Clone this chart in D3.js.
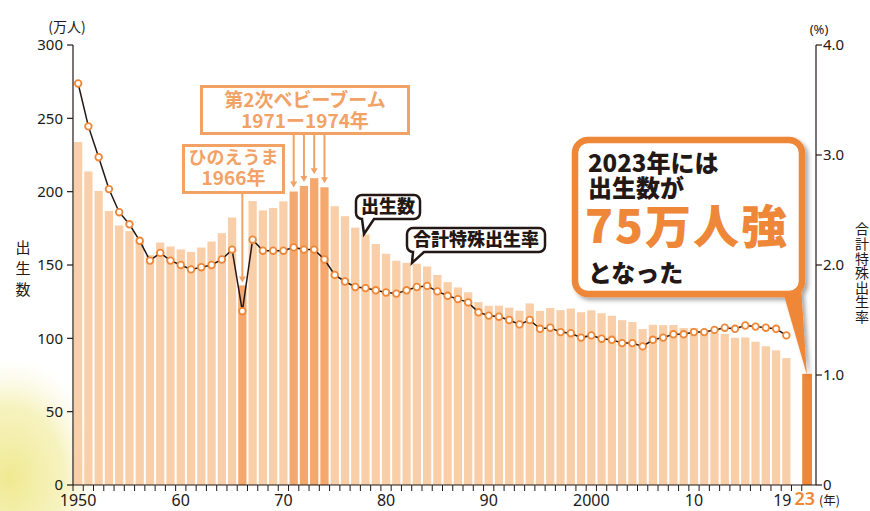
<!DOCTYPE html>
<html><head><meta charset="utf-8">
<script src="https://cdn.jsdelivr.net/npm/d3@7/dist/d3.min.js"></script>
<style>
html,body{margin:0;padding:0;background:#fff;}
svg{display:block;}
text{font-family:"Noto Sans","Noto Sans CJK JP",sans-serif;}
.jp{font-family:"Noto Sans CJK JP","Noto Sans",sans-serif;}
.vert{writing-mode:vertical-rl;text-orientation:upright;}
</style></head>
<body>
<svg id="c" width="870" height="511"></svg>
<script>
// ---- data ----
const years = [1950,1951,1952,1953,1954,1955,1956,1957,1958,1959,
  1960,1961,1962,1963,1964,1965,1966,1967,1968,1969,
  1970,1971,1972,1973,1974,1975,1976,1977,1978,1979,
  1980,1981,1982,1983,1984,1985,1986,1987,1988,1989,
  1990,1991,1992,1993,1994,1995,1996,1997,1998,1999,
  2000,2001,2002,2003,2004,2005,2006,2007,2008,2009,
  2010,2011,2012,2013,2014,2015,2016,2017,2018,2019];
const births = [233.8,213.8,200.5,186.8,177.0,173.1,166.5,156.7,165.3,162.6,
  160.6,158.9,161.9,166.0,171.7,182.4,136.1,193.6,187.2,188.9,
  193.4,200.1,203.9,209.2,203.0,190.1,183.3,175.5,170.9,164.3,
  157.7,152.9,151.5,150.9,149.0,143.2,138.3,134.7,131.4,124.7,
  122.2,122.3,120.9,118.8,123.8,118.7,120.7,119.2,120.3,117.8,
  119.1,117.1,115.4,112.4,111.1,106.3,109.3,109.0,109.1,107.0,
  107.1,105.1,103.7,103.0,100.4,100.6,97.7,94.6,91.8,86.5];
const tfr = [3.65,3.26,2.98,2.69,2.48,2.37,2.22,2.04,2.11,2.04,
  2.00,1.96,1.98,2.00,2.05,2.14,1.58,2.23,2.13,2.13,
  2.13,2.16,2.14,2.14,2.05,1.91,1.85,1.80,1.79,1.77,
  1.75,1.74,1.77,1.80,1.81,1.76,1.72,1.69,1.66,1.57,
  1.54,1.53,1.50,1.46,1.50,1.42,1.43,1.39,1.38,1.34,
  1.36,1.33,1.32,1.29,1.29,1.26,1.32,1.34,1.37,1.37,
  1.39,1.39,1.41,1.43,1.42,1.45,1.44,1.43,1.42,1.36];
const year2023 = 2023;
const births2023 = 75.8;
const highlightYears = [1966,1971,1972,1973,1974];
const boomYears = [1971,1972,1973,1974];
const leftTicks = [0,50,100,150,200,250,300];
const rightTicks = [0,1.0,2.0,3.0,4.0];
const xLabels = [[1950,"1950"],[1960,"60"],[1970,"70"],[1980,"80"],[1990,"90"],[2000,"2000"],[2010,"10"],[2019,"19"]];

// ---- colors ----
const cLight = "#F9CFA9", cMid = "#F4A86D", cStrong = "#EE8737", cAnno = "#F2A264", cText = "#231815";

const svg = d3.select("#c");
const defs = svg.append("defs");
const rg = defs.append("radialGradient").attr("id","yel").attr("cx","50%").attr("cy","50%").attr("r","50%");
rg.append("stop").attr("offset","0%").attr("stop-color","#EEE785").attr("stop-opacity",0.9);
rg.append("stop").attr("offset","60%").attr("stop-color","#F2EC9E").attr("stop-opacity",0.65);
rg.append("stop").attr("offset","100%").attr("stop-color","#F8F4CC").attr("stop-opacity",0);
const f = defs.append("filter").attr("id","sh").attr("x","-20%").attr("y","-20%").attr("width","140%").attr("height","140%");
f.append("feDropShadow").attr("dx",3).attr("dy",3).attr("stdDeviation",2).attr("flood-color","#000").attr("flood-opacity",0.35);

svg.append("ellipse").attr("cx",10).attr("cy",478).attr("rx",90).attr("ry",120).attr("fill","url(#yel)");

// ---- scales ----
const cats = years.map(String).concat(["gap", String(year2023)]);
const x = d3.scaleBand().domain(cats).range([73, 812]).padding(0);
const bw = x.bandwidth();
const yL = d3.scaleLinear().domain([0,300]).range([485,45]);
const yR = d3.scaleLinear().domain([0,4]).range([485,45]);
const axR = 816;

// ---- bars ----
const barData = years.map((yr,i)=>({yr, v: births[i]}));
svg.append("g").selectAll("rect").data(barData).join("rect")
  .attr("x", d=>x(String(d.yr))+1)
  .attr("width", bw-2)
  .attr("y", d=>yL(d.v))
  .attr("height", d=>yL(0)-yL(d.v))
  .attr("fill", d=>highlightYears.includes(d.yr)?cMid:cLight);
svg.append("rect")
  .attr("x", x(String(year2023))+0.5).attr("width", bw-0.5)
  .attr("y", yL(births2023)).attr("height", yL(0)-yL(births2023))
  .attr("fill", cStrong);

// ---- axes ----
const ax = svg.append("g").attr("stroke","#231815").attr("stroke-width",1.2);
ax.append("line").attr("x1",73).attr("x2",73).attr("y1",45).attr("y2",485);
ax.append("line").attr("x1",axR).attr("x2",axR).attr("y1",45).attr("y2",485);
ax.append("line").attr("x1",73).attr("x2",axR).attr("y1",485).attr("y2",485);
leftTicks.forEach(t=>{
  ax.append("line").attr("x1",67).attr("x2",73).attr("y1",yL(t)).attr("y2",yL(t));
});
rightTicks.forEach(t=>{
  ax.append("line").attr("x1",axR).attr("x2",axR+6).attr("y1",yR(t)).attr("y2",yR(t));
});
cats.forEach(c=>{
  ax.append("line").attr("x1",x(c)).attr("x2",x(c)).attr("y1",485).attr("y2",491).attr("stroke-width",1);
});

const tl = svg.append("g").attr("fill","#231815").attr("font-size",15);
leftTicks.forEach(t=>{
  tl.append("text").attr("x",63).attr("y",yL(t)).attr("dy","0.36em").attr("text-anchor","end").text(t);
});
rightTicks.forEach(t=>{
  tl.append("text").attr("x",823).attr("y",yR(t)).attr("dy","0.36em").text(t===0?"0":t.toFixed(1));
});
xLabels.forEach(([yr,lab])=>{
  const off = yr===2019 ? -4 : 0;
  tl.append("text").attr("x",x(String(yr))+bw/2+off).attr("y",506).attr("text-anchor","middle").attr("font-size",16).text(lab);
});
svg.append("text").attr("x",x(String(year2023))+bw/2-2).attr("y",505).attr("text-anchor","middle")
  .attr("font-size",18).attr("font-weight",600).attr("fill",cStrong).text("23");
svg.append("text").attr("class","jp").attr("x",819).attr("y",505).attr("font-size",12.5).attr("fill",cText).text("(年)");
svg.append("text").attr("class","jp").attr("x",67).attr("y",32).attr("text-anchor","middle").attr("font-size",14).attr("fill",cText).text("(万人)");
svg.append("text").attr("x",819).attr("y",34).attr("text-anchor","middle").attr("font-size",13).attr("fill",cText).text("(%)");

// vertical axis titles
svg.append("text").attr("class","jp vert").attr("x",23).attr("y",240)
  .attr("font-size",15).attr("letter-spacing",6).attr("fill",cText).text("出生数");
svg.append("text").attr("class","jp vert").attr("x",862).attr("y",222)
  .attr("font-size",14).attr("letter-spacing",0.6).attr("fill",cText).text("合計特殊出生率");

// ---- TFR line ----
const lineData = years.map((yr,i)=>({yr, v: tfr[i]}));
const line = d3.line().x(d=>x(String(d.yr))+bw/2).y(d=>yR(d.v));
svg.append("path").datum(lineData).attr("d",line).attr("fill","none").attr("stroke","#231815").attr("stroke-width",1.5);
svg.append("g").selectAll("circle").data(lineData).join("circle")
  .attr("cx", d=>x(String(d.yr))+bw/2).attr("cy", d=>yR(d.v)).attr("r",3.3)
  .attr("fill","#fff").attr("stroke",cStrong).attr("stroke-width",1.8);

// ---- annotations ----
function bubble(bx,by,w,h,r,t1,t2,tx,ty){
  return `M${bx+r},${by} H${bx+w-r} A${r},${r} 0 0 1 ${bx+w},${by+r} V${by+h-r} A${r},${r} 0 0 1 ${bx+w-r},${by+h}`+
    ` H${t2} L${tx},${ty} L${t1},${by+h} H${bx+r} A${r},${r} 0 0 1 ${bx},${by+h-r} V${by+r} A${r},${r} 0 0 1 ${bx+r},${by} Z`;
}
function arrow(g, ax0, y0, y1, col){
  g.append("line").attr("x1",ax0).attr("x2",ax0).attr("y1",y0).attr("y2",y1-5).attr("stroke",col).attr("stroke-width",2);
  g.append("path").attr("d",`M${ax0-3.5},${y1-6} L${ax0+3.5},${y1-6} L${ax0},${y1} Z`).attr("fill",col);
}
function mtext(g, lines, xx, attrs){
  const t = g.append("text").attr("class","jp");
  Object.entries(attrs).forEach(([k,v])=>t.attr(k,v));
  lines.forEach(([s,yy,extra])=>{
    const ts = t.append("tspan").attr("x",xx).attr("y",yy).text(s);
    if (extra) Object.entries(extra).forEach(([k,v])=>ts.attr(k,v));
  });
  return t;
}
const an = svg.append("g");
// second baby boom
an.append("rect").attr("x",201.5).attr("y",86.5).attr("width",207).attr("height",47).attr("fill","#fff").attr("stroke",cAnno).attr("stroke-width",3);
mtext(an, [["第2次ベビーブーム",107],["1971ー1974年",128]], 305,
  {"text-anchor":"middle","font-size":19,"font-weight":700,"fill":cAnno});
boomYears.forEach(yr=>{
  const i = years.indexOf(yr);
  arrow(an, x(String(yr))+bw/2, 135, yL(births[i])-4, cAnno);
});
// hinoeuma
an.append("rect").attr("x",183.5).attr("y",145.5).attr("width",100).attr("height",47).attr("fill","#fff").attr("stroke",cAnno).attr("stroke-width",3);
mtext(an, [["ひのえうま",164,{"font-size":18}],["1966年",185]], 233.5,
  {"text-anchor":"middle","font-size":19,"font-weight":700,"fill":cAnno});
arrow(an, x("1966")+bw/2, 194, yL(births[years.indexOf(1966)])-3, cAnno);

// speech bubbles
an.append("path").attr("d",bubble(356,195,64,24,6,362,374,364,234)).attr("fill","#fff").attr("stroke","#231815").attr("stroke-width",2.5);
an.append("text").attr("class","jp").attr("x",388).attr("y",207).attr("dy","0.36em").attr("text-anchor","middle").attr("font-size",18).attr("font-weight",900).attr("fill","#231815").text("出生数");
an.append("path").attr("d",bubble(407,228,138,24,6,413,424,412,263)).attr("fill","#fff").attr("stroke","#231815").attr("stroke-width",2.5);
an.append("text").attr("class","jp").attr("x",476).attr("y",240).attr("dy","0.36em").attr("text-anchor","middle").attr("font-size",18).attr("font-weight",900).attr("fill","#231815").text("合計特殊出生率");

// ---- callout ----
const co = svg.append("g").attr("filter","url(#sh)");
co.append("path").attr("d",`M783,292 L801,286 L${x(String(year2023))+bw/2},${yL(births2023)+1} Z`).attr("fill",cStrong);
co.append("rect").attr("x",575).attr("y",140).attr("width",227).attr("height",154).attr("rx",13).attr("fill","#fff").attr("stroke",cStrong).attr("stroke-width",6.5);
mtext(svg, [
  ["2023年には",172],
  ["出生数が",197],
  ["75万人強",243,{"font-size":46,"fill":cStrong,"letter-spacing":2,"x":585}],
  ["となった",282]
], 588, {"font-size":24,"font-weight":900,"fill":cText});
</script>
</body></html>
